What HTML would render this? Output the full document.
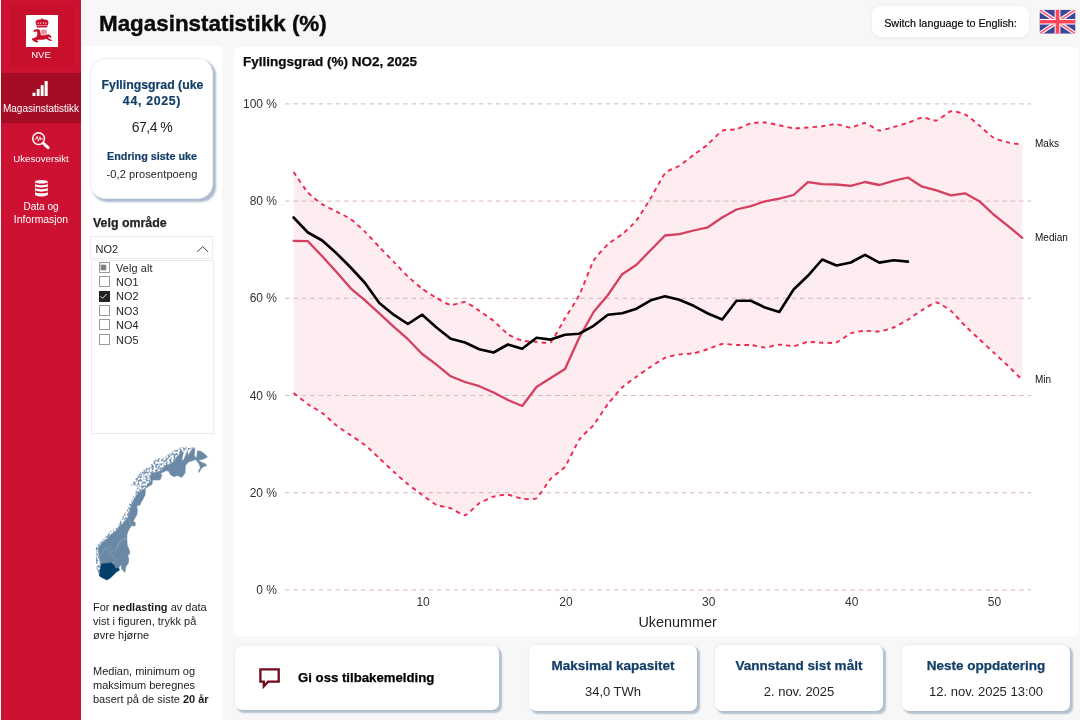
<!DOCTYPE html>
<html lang="no"><head><meta charset="utf-8"><title>Magasinstatistikk (%)</title>
<style>
*{box-sizing:border-box;margin:0;padding:0}
html,body{width:1080px;height:720px;overflow:hidden}
body{background:#f7f7f7;font-family:"Liberation Sans","DejaVu Sans",sans-serif;color:#252423;position:relative}
.abs{position:absolute}
#side{left:1px;top:0;width:80px;height:720px;background:#cc1132}
#side .act{left:0;top:73px;width:80px;height:50px;background:#a40d25}
#side .lbl{left:0;width:80px;text-align:center;color:#fff;font-size:10px;line-height:13.4px;white-space:nowrap}
#logo{left:25px;top:15px;width:32px;height:32px;background:#fff}
h1{left:99px;top:10px;font-size:22.4px;line-height:28px;font-weight:bold;color:#0b0b0b;-webkit-text-stroke:.4px #0b0b0b;white-space:nowrap}
#lang{left:872px;top:6px;width:157px;height:31px;border-radius:9px;background:#fff;font-size:10.800px;line-height:35.400px;text-align:center;color:#000;-webkit-text-stroke:.15px #000;box-shadow:0 1px 6px rgba(0,0,0,.05)}
#left{left:82px;top:46px;width:140px;height:674px;background:#fff}
#kpi{left:90px;top:58px;width:123px;height:140.500px;border-radius:15px;background:#fff;border:1px solid #eceef1;box-shadow:2.500px 2.500px 2px rgba(90,120,160,.5);text-align:center}
#kpi .t{font-weight:bold;color:#123f69;-webkit-text-stroke:.2px #123f69;font-size:12.3px;line-height:16.300px;left:-9px;width:140px;white-space:nowrap}
#kpi .v{left:-9px;width:140px;color:#252423;white-space:nowrap}
#velg{left:93px;top:214.200px;font-size:12.4px;-webkit-text-stroke:.25px #252423;font-weight:bold;line-height:18px;color:#252423}
#dd{left:90px;top:236px;width:123px;height:23px;border:1px solid #ececec;background:#fff;font-size:11px;line-height:24px;padding-left:4.600px}
#list{left:91px;top:259.500px;width:123px;height:174.500px;border:1px solid #ececec;background:#fff}
.cb{left:6.500px;margin-top:-1px;width:11px;height:11px;border:1px solid #9a9a9a;background:#fff}
.it{left:24px;margin-top:-.5px;font-size:10.800px;line-height:14px;letter-spacing:.15px;color:#252423;white-space:nowrap}
.note{left:93px;width:128px;font-size:11px;line-height:14.4px;color:#1c1c1c}
#chartp{left:234px;top:47px;width:845px;height:589px;background:#fff;border-radius:5px}
#ctitle{left:243px;top:53px;font-size:13.500px;font-weight:bold;line-height:18px;color:#0b0b0b;-webkit-text-stroke:.25px #0b0b0b}
svg.chart,svg.map,svg.ico{position:absolute;left:0;top:0}
.grid line{stroke:#dcbcc4;stroke-width:1;stroke-dasharray:4.4 4.04}
.grid.over line{stroke:#d8b4bd;stroke-opacity:1}
.dot{fill:none;stroke:#ee2950;stroke-width:1.9;stroke-dasharray:4.4 4.04}
.med{fill:none;stroke:#d5405f;stroke-width:2.3;stroke-linejoin:round;stroke-linecap:round}
.cur{fill:none;stroke:#000;stroke-width:2.6;stroke-linejoin:round;stroke-linecap:round}
.ax text{font-size:12px;fill:#333}
.axt{font-size:14.400px;fill:#222}
.sl text{font-size:10px;fill:#111}
.card{top:645px;height:65.500px;background:#fff;border-radius:7px;box-shadow:2.700px 2.700px 1.500px rgba(100,130,165,.45),0 0 3px rgba(0,0,0,.09);text-align:center}
.card .t{position:absolute;left:0;right:0;top:12px;font-size:13.500px;-webkit-text-stroke:.25px #123f69;font-weight:bold;color:#123f69;line-height:18px}
.card .v{position:absolute;left:0;right:0;top:38.400px;font-size:13px;color:#252423;line-height:18px}
</style></head><body>
<div id="side" class="abs">
  <div class="abs" style="left:9px;top:4px;width:63.500px;height:64px;background:#c8102d"></div>
  <div class="abs act"></div>
  <div id="logo" class="abs"></div>
  <div class="abs lbl" style="top:47.500px;font-size:9.600px">NVE</div>
  <div class="abs lbl" style="top:101.700px">Magasinstatistikk</div>
  <div class="abs lbl" style="top:151.800px;font-size:9.700px">Ukesoversikt</div>
  <div class="abs lbl" style="top:200px">Data og</div>
  <div class="abs lbl" style="top:213.400px;font-size:10.400px">Informasjon</div>
</div>
<h1 class="abs">Magasinstatistikk (%)</h1>
<div id="lang" class="abs">Switch language to English:</div>
<div id="left" class="abs"></div>
<div id="kpi" class="abs">
  <div class="abs t" style="top:17.500px;left:-8.500px">Fyllingsgrad (uke</div>
  <div class="abs t" style="top:33.800px;letter-spacing:.7px">44, 2025)</div>
  <div class="abs v" style="top:58.700px;font-size:14px;line-height:18px;letter-spacing:-.5px">67,4 %</div>
  <div class="abs t" style="top:90px;font-size:10.800px;line-height:14px">Endring siste uke</div>
  <div class="abs v" style="top:108px;font-size:11px;line-height:14px;letter-spacing:.1px">-0,2 prosentpoeng</div>
</div>
<div id="velg" class="abs">Velg område</div>
<div id="dd" class="abs">NO2</div>
<div id="list" class="abs">
  <div class="abs cb" style="top:2px"></div><div class="abs it" style="top:1px">Velg alt</div>
  <div class="abs cb" style="top:16px"></div><div class="abs it" style="top:15px">NO1</div>
  <div class="abs cb" style="top:31px;background:#222;border-color:#222"></div><div class="abs it" style="top:29px">NO2</div>
  <div class="abs cb" style="top:45px"></div><div class="abs it" style="top:44px">NO3</div>
  <div class="abs cb" style="top:59px"></div><div class="abs it" style="top:58px">NO4</div>
  <div class="abs cb" style="top:74px"></div><div class="abs it" style="top:73px">NO5</div>
</div>
<svg class="map" width="1080" height="720" viewBox="0 0 1080 720"><filter id="sp" x="0" y="0" width="100%" height="100%" filterUnits="userSpaceOnUse"><feTurbulence type="fractalNoise" baseFrequency=".5" numOctaves="2" seed="7" result="n"/><feColorMatrix in="n" type="matrix" values="0 0 0 0 0  0 0 0 0 0  0 0 0 0 0  0 0 0 5 -2.050" result="m"/><feComposite in="SourceGraphic" in2="m" operator="in"/></filter><g fill="#6a89a6" opacity=".9" filter="url(#sp)"><polygon points="130.0,486.7 133.3,481.7 137.5,475.8 142.5,470.0 149.2,466.7 155.0,460.0 158.3,457.9 163.3,458.8 169.2,453.3 176.7,449.2 180.0,447.5 185.0,446.2 187.5,448.3 192.5,447.1 195.8,447.9 195.0,449.2 192.5,448.3 187.5,450.8 181.7,450.8 178.3,455.8 175.0,460.8 170.0,464.2 163.3,467.5 158.3,471.7 151.7,473.3 150.0,475.8 150.8,480.8 145.0,488.3 140.8,494.2 135.0,497.5 133.3,500.0 131.7,500.0 135.0,493.3 137.5,486.7 133.3,485.0"/><polygon points="95.0,550.0 98.3,543.3 105.0,537.5 110.0,531.7 117.5,527.5 121.7,518.3 126.7,510.0 131.7,499.2 136.7,492.5 140.8,490.0 143.3,490.0 140.0,491.7 136.7,495.0 134.2,499.2 131.7,504.2 130.0,509.2 129.2,514.2 126.7,519.2 123.3,523.3 119.2,526.7 116.7,530.8 110.8,535.0 105.8,540.0 100.8,544.2 98.3,549.2 98.3,550.0"/><polygon points="99.2,575.0 96.7,569.2 95.8,557.5 96.2,549.2 99.2,543.3 104.2,538.3 110.0,532.5 115.0,530.0 123.3,530.0 117.5,531.7 112.5,534.2 108.3,538.3 105.0,542.5 100.0,546.7 98.3,550.8 99.2,557.5 101.2,564.2"/></g><g fill="#6a89a6" stroke="#6a89a6" stroke-width=".5" stroke-linejoin="round"><polygon points="135.0,497.5 140.8,494.2 142.5,490.0 145.0,488.3 148.3,483.3 150.8,480.8 150.0,475.8 151.7,473.3 158.3,471.7 161.7,470.0 163.3,467.5 166.7,465.0 170.0,464.2 172.5,462.5 175.0,460.8 176.7,456.7 178.3,455.8 181.7,450.8 183.3,452.5 181.7,460.0 183.3,460.4 185.8,455.0 187.5,450.8 188.3,455.8 190.0,452.5 192.5,448.3 195.0,449.2 194.2,455.0 195.8,457.9 196.7,456.7 197.5,450.8 200.8,451.2 205.0,454.2 207.5,457.1 202.5,459.6 198.3,460.0 201.7,462.5 205.4,463.8 206.7,465.8 203.3,466.7 200.8,469.2 199.2,472.5 198.5,470.8 200.4,467.9 199.2,464.2 195.8,459.6 193.3,460.4 188.3,462.1 185.4,465.8 185.0,473.3 181.7,477.5 177.5,475.4 174.2,476.7 170.8,475.0 168.3,470.8 165.8,470.8 160.8,473.3 161.7,475.8 160.0,480.0 152.5,480.0 152.1,484.2 145.4,488.3 145.0,494.2 142.5,500.0 135.0,500.0"/><polygon points="98.3,550.0 98.3,549.2 100.8,544.2 105.8,540.0 110.8,535.0 116.7,530.8 119.2,526.7 123.3,523.3 126.7,519.2 129.2,514.2 130.0,509.2 131.7,504.2 134.2,499.2 136.7,495.0 140.0,491.7 143.3,490.0 145.0,490.0 145.0,495.0 142.5,499.2 140.0,505.0 136.7,505.8 137.5,510.8 136.7,515.0 133.3,520.8 135.4,522.9 135.0,526.2 131.7,525.4 129.2,529.2 126.7,534.2 126.7,540.0 127.1,550.0"/><polygon points="101.2,564.2 99.2,557.5 98.3,550.8 100.0,546.7 105.0,542.5 108.3,538.3 112.5,534.2 117.5,531.7 123.3,530.0 127.1,530.0 126.7,538.3 127.1,545.0 129.6,550.8 129.8,553.3 127.9,555.8 128.8,559.2 128.3,563.3 125.8,566.7 125.0,572.5 123.3,570.8 121.7,569.2 121.2,565.0 119.2,566.7 118.8,567.9 115.8,568.8 113.8,565.0 111.7,562.9 106.7,563.3"/></g><polygon points="99.2,575.0 100.2,569.2 101.2,564.2 106.7,563.3 111.7,562.9 113.8,565.0 115.8,568.8 118.8,567.9 119.3,570.2 116.7,571.7 114.2,574.2 110.8,577.5 107.1,580.0 103.3,578.3 100.4,576.7" fill="#043f6c" stroke="#043f6c" stroke-width=".6" stroke-linejoin="round"/><g fill="none" stroke="#b4c4d3" stroke-width=".3"><polyline points="126.2,537.9 121.7,540.0 118.3,543.3 117.1,547.9 114.2,550.8 111.2,551.8 108.8,550.0 106.2,547.1"/><polyline points="108.8,552.5 112.5,555.8 115.8,559.2 115.0,562.1 112.5,562.9"/><polyline points="106.2,547.1 104.2,550.0 102.5,553.3 99.2,555.0"/><polyline points="126.7,538.3 122.5,540.0 119.2,543.3 116.7,548.3"/><polyline points="127.5,517.5 129.2,520.8 130.8,525.0"/></g></svg>
<div class="abs note" style="top:599.600px">For <b>nedlasting</b> av data vist i figuren, trykk på øvre hjørne</div>
<div class="abs note" style="top:663.600px">Median, minimum og maksimum beregnes basert på de siste <b>20 år</b></div>
<div id="chartp" class="abs"></div>
<div id="ctitle" class="abs">Fyllingsgrad (%) NO2, 2025</div>
<svg class="chart" width="1080" height="720" viewBox="0 0 1080 720">
<path d="M293.6,172.0C294.8,173.7 305.5,189.8 307.9,192.5C310.3,195.2 319.8,202.6 322.2,204.2C324.6,205.8 334.1,210.4 336.5,211.7C338.8,212.9 348.4,217.5 350.7,219.2C353.1,220.9 362.6,229.4 365.0,231.7C367.4,234.0 376.9,244.5 379.3,247.0C381.7,249.5 391.2,259.2 393.6,261.7C396.0,264.2 405.5,274.2 407.9,276.5C410.3,278.8 419.8,287.0 422.2,288.8C424.6,290.6 434.1,296.6 436.5,298.0C438.8,299.4 448.4,304.7 450.7,305.0C453.1,305.3 462.7,301.5 465.0,302.0C467.4,302.5 476.9,309.2 479.3,310.8C481.7,312.4 491.2,318.9 493.6,320.8C496.0,322.8 505.5,332.6 507.9,334.2C510.3,335.8 519.8,340.0 522.2,340.6C524.6,341.2 534.1,341.6 536.5,341.7C538.8,341.8 548.4,344.1 550.7,342.2C553.1,340.2 562.7,322.2 565.0,318.3C567.4,314.4 576.9,299.8 579.3,295.0C581.7,290.2 591.2,265.0 593.6,260.8C596.0,256.6 605.5,246.4 607.9,244.2C610.3,242.0 619.8,236.2 622.2,234.2C624.6,232.2 634.1,223.4 636.5,220.4C638.8,217.4 648.4,201.9 650.8,198.0C653.1,194.1 662.7,176.0 665.0,173.3C667.4,170.6 676.9,167.3 679.3,165.8C681.7,164.3 691.2,156.8 693.6,155.0C696.0,153.2 705.5,146.2 707.9,144.2C710.3,142.2 719.8,132.1 722.2,130.8C724.6,129.6 734.1,129.8 736.5,129.2C738.8,128.6 748.4,123.9 750.8,123.3C753.1,122.7 762.7,122.3 765.0,122.5C767.4,122.7 776.9,124.8 779.3,125.3C781.7,125.8 791.2,128.1 793.6,128.3C796.0,128.5 805.5,127.7 807.9,127.5C810.3,127.3 819.8,126.5 822.2,126.2C824.6,125.9 834.1,124.1 836.5,124.2C838.8,124.3 848.4,127.6 850.8,127.5C853.1,127.4 862.7,122.8 865.0,123.0C867.4,123.2 876.9,130.2 879.3,130.5C881.7,130.8 891.2,127.6 893.6,127.0C896.0,126.4 905.5,123.6 907.9,122.8C910.3,122.0 919.8,117.7 922.2,117.5C924.6,117.3 934.1,121.0 936.5,120.5C938.9,120.0 948.4,111.8 950.8,111.3C953.1,110.8 962.7,113.1 965.0,114.3C967.4,115.5 976.9,123.5 979.3,125.5C981.7,127.5 991.2,136.4 993.6,137.8C996.0,139.2 1005.5,141.8 1007.9,142.4C1010.3,143.0 1021.0,144.5 1022.2,144.7L1022.2,380.0C1021.0,378.8 1010.3,368.1 1007.9,365.8C1005.5,363.5 996.0,354.7 993.6,352.5C991.2,350.3 981.7,341.4 979.3,339.2C976.9,337.0 967.4,328.2 965.0,325.8C962.7,323.4 953.1,312.7 950.8,310.8C948.4,308.9 938.9,302.6 936.5,302.5C934.1,302.4 924.6,308.6 922.2,310.0C919.8,311.4 910.3,318.2 907.9,319.7C905.5,321.2 896.0,326.5 893.6,327.5C891.2,328.5 881.7,331.2 879.3,331.5C876.9,331.8 867.4,330.7 865.0,330.8C862.7,330.9 853.1,332.3 850.8,333.3C848.4,334.3 838.8,341.7 836.5,342.5C834.1,343.3 824.6,342.8 822.2,342.8C819.8,342.8 810.3,341.7 807.9,342.0C805.5,342.3 796.0,346.0 793.6,346.2C791.2,346.4 781.7,344.6 779.3,344.7C776.9,344.8 767.4,347.5 765.0,347.5C762.7,347.5 753.1,345.2 750.8,345.0C748.4,344.8 738.8,345.1 736.5,345.0C734.1,344.9 724.6,343.6 722.2,344.0C719.8,344.4 710.3,348.4 707.9,349.2C705.5,350.0 696.0,352.9 693.6,353.3C691.2,353.7 681.7,354.1 679.3,354.5C676.9,354.9 667.4,356.8 665.0,357.8C662.7,358.8 653.1,365.1 650.8,366.7C648.4,368.3 638.8,375.0 636.5,376.7C634.1,378.4 624.6,385.2 622.2,387.5C619.8,389.8 610.3,400.9 607.9,404.0C605.5,407.1 596.0,422.0 593.6,425.0C591.2,428.0 581.7,436.1 579.3,439.6C576.9,443.1 567.4,463.4 565.0,466.7C562.7,470.0 553.1,476.2 550.7,478.8C548.4,481.4 538.8,496.5 536.5,498.2C534.1,499.9 524.6,499.0 522.2,498.7C519.8,498.4 510.3,494.9 507.9,494.7C505.5,494.5 496.0,496.0 493.6,496.7C491.2,497.4 481.7,501.8 479.3,503.3C476.9,504.9 467.4,514.9 465.0,515.3C462.7,515.7 453.1,509.2 450.7,508.3C448.4,507.4 438.8,506.1 436.5,505.0C434.1,503.9 424.6,496.7 422.2,495.0C419.8,493.3 410.3,486.1 407.9,484.2C405.5,482.3 396.0,473.9 393.6,471.7C391.2,469.5 381.7,460.4 379.3,458.2C376.9,456.0 367.4,446.9 365.0,445.0C362.6,443.1 353.1,436.9 350.7,435.3C348.4,433.7 338.8,427.5 336.5,425.6C334.1,423.7 324.6,414.7 322.2,412.9C319.8,411.1 310.3,405.8 307.9,404.2C305.5,402.6 294.8,394.0 293.6,393.1Z" fill="#fdecf0"/>
<g class="grid over"><line x1="285" x2="1031" y1="103.9" y2="103.9"/><line x1="285" x2="1031" y1="201.1" y2="201.1"/><line x1="285" x2="1031" y1="298.3" y2="298.3"/><line x1="285" x2="1031" y1="395.5" y2="395.5"/><line x1="285" x2="1031" y1="492.7" y2="492.7"/><line x1="285" x2="1031" y1="589.9" y2="589.9"/></g>
<path class="dot" d="M293.6,172.0C294.8,173.7 305.5,189.8 307.9,192.5C310.3,195.2 319.8,202.6 322.2,204.2C324.6,205.8 334.1,210.4 336.5,211.7C338.8,212.9 348.4,217.5 350.7,219.2C353.1,220.9 362.6,229.4 365.0,231.7C367.4,234.0 376.9,244.5 379.3,247.0C381.7,249.5 391.2,259.2 393.6,261.7C396.0,264.2 405.5,274.2 407.9,276.5C410.3,278.8 419.8,287.0 422.2,288.8C424.6,290.6 434.1,296.6 436.5,298.0C438.8,299.4 448.4,304.7 450.7,305.0C453.1,305.3 462.7,301.5 465.0,302.0C467.4,302.5 476.9,309.2 479.3,310.8C481.7,312.4 491.2,318.9 493.6,320.8C496.0,322.8 505.5,332.6 507.9,334.2C510.3,335.8 519.8,340.0 522.2,340.6C524.6,341.2 534.1,341.6 536.5,341.7C538.8,341.8 548.4,344.1 550.7,342.2C553.1,340.2 562.7,322.2 565.0,318.3C567.4,314.4 576.9,299.8 579.3,295.0C581.7,290.2 591.2,265.0 593.6,260.8C596.0,256.6 605.5,246.4 607.9,244.2C610.3,242.0 619.8,236.2 622.2,234.2C624.6,232.2 634.1,223.4 636.5,220.4C638.8,217.4 648.4,201.9 650.8,198.0C653.1,194.1 662.7,176.0 665.0,173.3C667.4,170.6 676.9,167.3 679.3,165.8C681.7,164.3 691.2,156.8 693.6,155.0C696.0,153.2 705.5,146.2 707.9,144.2C710.3,142.2 719.8,132.1 722.2,130.8C724.6,129.6 734.1,129.8 736.5,129.2C738.8,128.6 748.4,123.9 750.8,123.3C753.1,122.7 762.7,122.3 765.0,122.5C767.4,122.7 776.9,124.8 779.3,125.3C781.7,125.8 791.2,128.1 793.6,128.3C796.0,128.5 805.5,127.7 807.9,127.5C810.3,127.3 819.8,126.5 822.2,126.2C824.6,125.9 834.1,124.1 836.5,124.2C838.8,124.3 848.4,127.6 850.8,127.5C853.1,127.4 862.7,122.8 865.0,123.0C867.4,123.2 876.9,130.2 879.3,130.5C881.7,130.8 891.2,127.6 893.6,127.0C896.0,126.4 905.5,123.6 907.9,122.8C910.3,122.0 919.8,117.7 922.2,117.5C924.6,117.3 934.1,121.0 936.5,120.5C938.9,120.0 948.4,111.8 950.8,111.3C953.1,110.8 962.7,113.1 965.0,114.3C967.4,115.5 976.9,123.5 979.3,125.5C981.7,127.5 991.2,136.4 993.6,137.8C996.0,139.2 1005.5,141.8 1007.9,142.4C1010.3,143.0 1021.0,144.5 1022.2,144.7"/>
<path class="dot" d="M293.6,393.1C294.8,394.0 305.5,402.6 307.9,404.2C310.3,405.8 319.8,411.1 322.2,412.9C324.6,414.7 334.1,423.7 336.5,425.6C338.8,427.5 348.4,433.7 350.7,435.3C353.1,436.9 362.6,443.1 365.0,445.0C367.4,446.9 376.9,456.0 379.3,458.2C381.7,460.4 391.2,469.5 393.6,471.7C396.0,473.9 405.5,482.3 407.9,484.2C410.3,486.1 419.8,493.3 422.2,495.0C424.6,496.7 434.1,503.9 436.5,505.0C438.8,506.1 448.4,507.4 450.7,508.3C453.1,509.2 462.7,515.7 465.0,515.3C467.4,514.9 476.9,504.9 479.3,503.3C481.7,501.8 491.2,497.4 493.6,496.7C496.0,496.0 505.5,494.5 507.9,494.7C510.3,494.9 519.8,498.4 522.2,498.7C524.6,499.0 534.1,499.9 536.5,498.2C538.8,496.5 548.4,481.4 550.7,478.8C553.1,476.2 562.7,470.0 565.0,466.7C567.4,463.4 576.9,443.1 579.3,439.6C581.7,436.1 591.2,428.0 593.6,425.0C596.0,422.0 605.5,407.1 607.9,404.0C610.3,400.9 619.8,389.8 622.2,387.5C624.6,385.2 634.1,378.4 636.5,376.7C638.8,375.0 648.4,368.3 650.8,366.7C653.1,365.1 662.7,358.8 665.0,357.8C667.4,356.8 676.9,354.9 679.3,354.5C681.7,354.1 691.2,353.7 693.6,353.3C696.0,352.9 705.5,350.0 707.9,349.2C710.3,348.4 719.8,344.4 722.2,344.0C724.6,343.6 734.1,344.9 736.5,345.0C738.8,345.1 748.4,344.8 750.8,345.0C753.1,345.2 762.7,347.5 765.0,347.5C767.4,347.5 776.9,344.8 779.3,344.7C781.7,344.6 791.2,346.4 793.6,346.2C796.0,346.0 805.5,342.3 807.9,342.0C810.3,341.7 819.8,342.8 822.2,342.8C824.6,342.8 834.1,343.3 836.5,342.5C838.8,341.7 848.4,334.3 850.8,333.3C853.1,332.3 862.7,330.9 865.0,330.8C867.4,330.7 876.9,331.8 879.3,331.5C881.7,331.2 891.2,328.5 893.6,327.5C896.0,326.5 905.5,321.2 907.9,319.7C910.3,318.2 919.8,311.4 922.2,310.0C924.6,308.6 934.1,302.4 936.5,302.5C938.9,302.6 948.4,308.9 950.8,310.8C953.1,312.7 962.7,323.4 965.0,325.8C967.4,328.2 976.9,337.0 979.3,339.2C981.7,341.4 991.2,350.3 993.6,352.5C996.0,354.7 1005.5,363.5 1007.9,365.8C1010.3,368.1 1021.0,378.8 1022.2,380.0"/>
<polyline class="med" points="293.6,240.8 307.9,241.2 322.2,256.3 336.5,272.0 350.7,288.3 365.0,300.3 379.3,313.3 393.6,326.7 407.9,339.2 422.2,354.0 436.5,364.7 450.7,376.3 465.0,382.0 479.3,386.2 493.6,392.5 507.9,400.0 522.2,406.0 536.5,387.0 550.7,378.0 565.0,369.0 579.3,337.5 593.6,312.0 607.9,295.0 622.2,274.2 636.5,264.7 650.8,250.0 665.0,235.5 679.3,234.2 693.6,230.5 707.9,227.3 722.2,217.5 736.5,209.5 750.8,206.2 765.0,201.3 779.3,198.7 793.6,195.0 807.9,182.2 822.2,184.2 836.5,184.5 850.8,185.8 865.0,182.0 879.3,185.0 893.6,180.8 907.9,177.5 922.2,186.7 936.5,190.3 950.8,195.3 965.0,193.3 979.3,201.2 993.6,214.5 1007.9,225.8 1022.2,237.8"/>
<polyline class="cur" points="293.6,217.5 307.9,232.5 322.2,240.5 336.5,253.3 350.7,267.5 365.0,283.0 379.3,303.0 393.6,314.7 407.9,324.0 422.2,314.7 436.5,327.5 450.7,338.8 465.0,342.5 479.3,349.2 493.6,352.5 507.9,344.5 522.2,348.7 536.5,337.8 550.7,339.6 565.0,334.7 579.3,333.7 593.6,325.8 607.9,314.7 622.2,313.3 636.5,308.7 650.8,300.3 665.0,296.2 679.3,299.7 693.6,305.8 707.9,313.5 722.2,319.5 736.5,300.8 750.8,300.8 765.0,307.5 779.3,312.0 793.6,289.5 807.9,275.8 822.2,259.5 836.5,265.5 850.8,262.5 865.0,254.8 879.3,262.6 893.6,260.3 907.9,261.6"/>
<g class="ax"><text x="277" y="108.0" text-anchor="end">100 %</text><text x="277" y="205.2" text-anchor="end">80 %</text><text x="277" y="302.4" text-anchor="end">60 %</text><text x="277" y="399.6" text-anchor="end">40 %</text><text x="277" y="496.8" text-anchor="end">20 %</text><text x="277" y="594.0" text-anchor="end">0 %</text><text x="423.1" y="605.5" text-anchor="middle">10</text><text x="565.9" y="605.5" text-anchor="middle">20</text><text x="708.8" y="605.5" text-anchor="middle">30</text><text x="851.7" y="605.5" text-anchor="middle">40</text><text x="994.5" y="605.5" text-anchor="middle">50</text></g>
<text class="axt" x="677.600" y="627" text-anchor="middle">Ukenummer</text>
<g class="sl"><text x="1035" y="146.5">Maks</text><text x="1035" y="240.5">Median</text><text x="1035" y="382.5">Min</text></g>
</svg>
<div class="abs card" style="left:235px;width:263.500px;top:646px;height:64px"><div class="abs" style="left:63px;top:23.400px;font-size:13.200px;font-weight:bold;line-height:18px;color:#000;-webkit-text-stroke:.25px #000;white-space:nowrap">Gi oss tilbakemelding</div></div>
<div class="abs card" style="left:529px;width:168px"><div class="t">Maksimal kapasitet</div><div class="v">34,0 TWh</div></div>
<div class="abs card" style="left:715px;width:168px"><div class="t">Vannstand sist målt</div><div class="v">2. nov. 2025</div></div>
<div class="abs card" style="left:902px;width:168px"><div class="t">Neste oppdatering</div><div class="v">12. nov. 2025 13:00</div></div>
<svg class="ico" width="1080" height="720" viewBox="0 0 1080 720">
<!-- NVE logo -->
<g fill="#c8102e">
<path d="M35.6 22.2c0-1.6 1.6-2.4 3.4-2.6 1.2-.2 2.3-.3 2.6-.3v-1.3h.9v1.300c.3 0 1.400.1 2.600.3 1.800.2 3.400 1 3.400 2.600 0 1.800-1.100 3.400-1.500 5.400h-9.900c-.4-2-1.500-3.600-1.500-5.400z"/>
<path d="M33.800 30.300c1.200-1 3.600-1.300 5.200-.700 1 .4 1.400 1.600 1.500 3.300l.4 2.400c1.500.1 4 0 5.600-.5 1.700-.5 3.200-.4 4 .8.600.8 1 1.900.7 2.300-.4.500-1.200-.2-1.700-.7-.5-.4-1.100 0-1.300.5.8.9 2.500 1.500 3.600 2.300.5.700-.3 1.300-1.300 1-1.500-.5-3-1.700-4.600-2-1.300.6-3.200 1-4.700.8-1.600-.2-3.300-.2-4.500.4.600.7 1.500 1 1.600 1.600 0 .7-1.200.9-2.300.5-1.500-.6-3.700-1.700-4.200-2.800-.3-.9.800-1.500 2-1.600 1.400-.2 2.600-.7 3.100-1.900.5-1.300.6-2.900.2-4.200-.8-.5-2.200-.3-3 .2-.6 0-.8-1.200-.3-1.700z"/>
</g>
<g fill="#c8102e" opacity=".45"><rect x="41.200" y="29.600" width="5.400" height="5"/></g>
<g fill="#fff" opacity=".85"><circle cx="38.200" cy="23.300" r=".7"/><circle cx="40.600" cy="23" r=".7"/><circle cx="43.400" cy="23" r=".7"/><circle cx="45.800" cy="23.300" r=".7"/><rect x="36.800" y="25" width="10.400" height=".6"/></g>
<!-- bars -->
<g fill="#fff"><rect x="32.500" y="92.700" width="3" height="3.300"/><rect x="36.700" y="89" width="2.900" height="7"/><rect x="40.700" y="85.200" width="2.900" height="10.800"/><rect x="44.600" y="81" width="3.100" height="15"/></g>
<!-- magnifier -->
<g fill="none" stroke="#fff" stroke-linecap="round">
<circle cx="38.600" cy="138.600" r="5.900" stroke-width="1.500"/>
<path d="M43.900 143.800l4.200 3.900" stroke-width="3"/>
<path d="M34.900 139.100h1.100l1.100-2.800 1.300 4.900 1.500-4.500 1 3.100.6-1h1.200" stroke-width=".85" stroke-linejoin="round"/>
</g>
<!-- database -->
<g fill="#fff">
<ellipse cx="41.400" cy="181.800" rx="6.400" ry="1.750"/>
<path d="M35 184.200q6.400 1.900 12.800 0v2.300q-6.400 2.200-12.800 0z"/>
<path d="M35 188.300q6.400 1.900 12.800 0v2.300q-6.400 2.200-12.800 0z"/>
<path d="M35 192.400q6.400 1.900 12.800 0v2.700q-6.400 3-12.800 0z"/>
</g>
<g fill="#fff" opacity=".5"><path d="M35 182v13h.7v-13zM47.100 182v13h.7v-13z"/></g>
<!-- flag -->
<g>
<clipPath id="fc"><rect x="1039.500" y="9.700" width="36" height="24" rx="2"/></clipPath>
<g clip-path="url(#fc)">
<rect x="1039.500" y="9.700" width="36" height="24" fill="#3f4499"/>
<path d="M1039.500 9.700l36 24M1075.500 9.700l-36 24" stroke="#fff" stroke-width="4"/>
<path d="M1039.500 9.700l36 24M1075.500 9.700l-36 24" stroke="#fb6573" stroke-width="1.700"/>
<path d="M1057.500 9.700v24" stroke="#fff" stroke-width="5.800"/><path d="M1039.500 21.700h36" stroke="#fff" stroke-width="5.400"/>
<path d="M1057.500 9.700v24" stroke="#ff4658" stroke-width="3.800"/>
<path d="M1039.500 21.700h36" stroke="#ff4658" stroke-width="3.400"/>
</g></g>
<!-- speech bubble -->
<path d="M260.400 669.400h18.300v12.200h-10.600l-4.300 4.700v-4.700h-3.400z" fill="none" stroke="#720a1e" stroke-width="2.300" stroke-linejoin="miter"/>
<!-- chevron -->
<path d="M197.200 252l5.500-5.400 5.500 5.400" fill="none" stroke="#444" stroke-width="1"/>
<!-- checkbox marks -->
<rect x="100.600" y="264.700" width="5.600" height="5.600" fill="#808080"/>
<path d="M100.600 296.400l1.900 1.900 4.200-4.300" fill="none" stroke="#fff" stroke-width=".9"/>
</svg>
</body></html>
